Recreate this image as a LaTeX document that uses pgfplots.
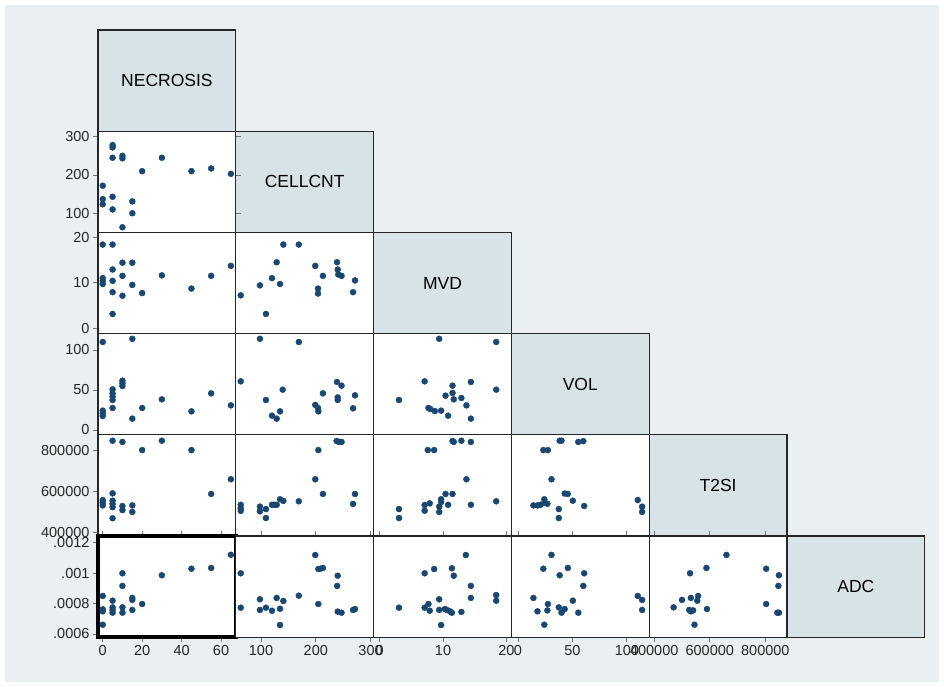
\documentclass[border=0pt]{standalone}
\usepackage{fontspec}
\setmainfont{Liberation Sans}
\usepackage{pgfplots}
\pgfplotsset{compat=1.18}

\definecolor{stnavy}{RGB}{26,71,111}
\definecolor{stbg}{RGB}{234,240,242}
\definecolor{stbox}{RGB}{216,227,231}

\pgfplotsset{
  panel/.style={
    scale only axis, width=137.8pt, height=101.2pt, anchor=south west,
    scaled ticks=false,
    axis background/.style={fill=white},
    axis line style={draw=black!85, line width=1.1pt},
    xtick=\empty, ytick=\empty,
    tick align=outside, major tick length=5pt,
    tick style={draw=black!55, line width=0.8pt},
    tick label style={font=\fontsize{14.5}{16}\selectfont, text=black!85},
  },
  dots/.style={only marks, mark=*, mark size=3pt, draw=stnavy, fill=stnavy},
  necx/.style={xmin=-2.4, xmax=67.5},
  cellx/.style={xmin=54, xmax=305.5},
  mvdx/.style={xmin=-0.96, xmax=20.8},
  volx/.style={xmin=-6, xmax=120.5},
  t2x/.style={xmin=382000, xmax=878000},
  celly/.style={ymin=50, ymax=314.4},
  mvdy/.style={ymin=-1.23, ymax=21.08},
  voly/.style={ymin=-6, ymax=120.5},
  t2y/.style={ymin=382000, ymax=878000},
  adcy/.style={ymin=0.000579, ymax=0.001244},
}

\newcommand{\lab}[1]{\fontsize{17.5}{20}\selectfont #1}

\begin{document}
\begin{tikzpicture}
% graph region
\fill[white] (0pt,0pt) rectangle (944pt,687pt);
\fill[stbg] (5pt,5pt) rectangle (939pt,682pt);

% variable names on the diagonal
\draw[fill=stbox, draw=black!85, line width=1.1pt] (98pt,555.8pt) rectangle (235.8pt,657pt) node[midway]{\lab{NECROSIS}};
\draw[fill=stbox, draw=black!85, line width=1.1pt] (235.8pt,454.6pt) rectangle (373.6pt,555.8pt) node[midway]{\lab{CELLCNT}};
\draw[fill=stbox, draw=black!85, line width=1.1pt] (373.6pt,353.4pt) rectangle (511.4pt,454.6pt) node[midway]{\lab{MVD}};
\draw[fill=stbox, draw=black!85, line width=1.1pt] (511.4pt,252.2pt) rectangle (649.2pt,353.4pt) node[midway]{\lab{VOL}};
\draw[fill=stbox, draw=black!85, line width=1.1pt] (649.2pt,151pt) rectangle (787pt,252.2pt) node[midway]{\lab{T2SI}};
\draw[fill=stbox, draw=black!85, line width=1.1pt] (787pt,49.8pt) rectangle (924.8pt,151pt) node[midway]{\lab{ADC}};

% ---- row: CELLCNT
\begin{axis}[panel, at={(98pt,454.6pt)}, necx, celly, ytick={100,200,300}, yticklabels={100,200,300}]
\addplot[dots] coordinates {(0,172)(0,137)(0,123.5)(5,278)(5,272)(5,245)(5,143)(5,110)(10,250)(10,243.6)(10,63.4)(15,131)(15,100)(20,210)(30,245)(45,210)(55,217)(65,203)};
\end{axis}

% ---- row: MVD
\begin{axis}[panel, at={(98pt,353.4pt)}, necx, mvdy, ytick={0,10,20}, yticklabels={0,10,20}]
\addplot[dots] coordinates {(0,18.4)(5,18.4)(0,11.0)(0,10.4)(0,9.7)(5,12.9)(5,10.4)(5,7.9)(5,3.1)(10,14.4)(10,11.5)(10,7.1)(15,14.4)(15,9.5)(20,7.7)(30,11.6)(45,8.7)(55,11.5)(65,13.7)};
\end{axis}
\begin{axis}[panel, at={(235.8pt,353.4pt)}, cellx, mvdy]
\addplot[dots] coordinates {(63,7.2)(98,9.4)(109,3.1)(120,11.0)(128.6,14.5)(134.7,9.7)(140.8,18.4)(169,18.4)(199,13.7)(204,8.7)(204,7.6)(213,11.5)(238.7,14.5)(240,12.9)(241,11.8)(247,11.5)(271.5,10.5)(268,7.9)};
\end{axis}

% ---- row: VOL
\begin{axis}[panel, at={(98pt,252.2pt)}, necx, voly, ytick={0,50,100}, yticklabels={0,50,100}]
\addplot[dots] coordinates {(0,110)(0,24.2)(0,20.8)(0,17.5)(5,50.8)(5,45.8)(5,41.7)(5,37.5)(5,27.5)(10,61.7)(10,58.3)(10,55)(15,114)(15,14.2)(20,27.5)(30,38.3)(45,23.3)(55,45.8)(65,30.8)};
\end{axis}
\begin{axis}[panel, at={(235.8pt,252.2pt)}, cellx, voly]
\addplot[dots] coordinates {(98,114)(169,110)(63,60.8)(109,37.5)(139.6,50.4)(120,17.9)(128.6,14.2)(134.7,23.3)(199,31.3)(204,27.5)(204.6,23.3)(213,45.8)(238.7,60)(247,55.4)(240,40.8)(240,37.5)(271.5,43.3)(268,27.1)};
\end{axis}
\begin{axis}[panel, at={(373.6pt,252.2pt)}, mvdx, voly]
\addplot[dots] coordinates {(9.4,114)(18.4,110)(3.05,37.5)(7.1,60.8)(7.7,27.5)(8.0,26.2)(8.7,23.7)(9.7,24.2)(10.8,17.9)(10.4,42.9)(11.5,55.4)(11.5,46.25)(11.7,38.3)(12.9,40)(13.7,30.8)(14.4,60)(14.4,14.2)(18.4,50.4)};
\end{axis}

% ---- row: T2SI
\begin{axis}[panel, at={(98pt,151pt)}, necx, t2y, ytick={400000,600000,800000}, yticklabels={400000,600000,800000}]
\addplot[dots] coordinates {(0,558000)(0,545000)(0,532000)(5,849000)(5,591000)(5,555000)(5,539000)(5,523000)(5,469000)(10,843000)(10,529000)(10,509000)(15,532000)(15,500000)(20,803000)(30,849000)(45,803000)(55,588000)(65,660000)};
\end{axis}
\begin{axis}[panel, at={(235.8pt,151pt)}, cellx, t2y]
\addplot[dots] coordinates {(238,847500)(242.3,843000)(247,843000)(204.6,803000)(199,660000)(213,588000)(271.5,588000)(268,539000)(169,552000)(134.7,562000)(140.8,554000)(120,535000)(128.6,535000)(124,535000)(98,526000)(98,503000)(109,514000)(109,470000)(63,535000)(63,518000)(63,505000)};
\end{axis}
\begin{axis}[panel, at={(373.6pt,151pt)}, mvdx, t2y]
\addplot[dots] coordinates {(11.5,847500)(11.7,843000)(12.9,849000)(14.4,843000)(7.6,803000)(8.6,803000)(13.7,660000)(10.4,588000)(11.5,588000)(18.4,552000)(14.4,535000)(10.8,535000)(9.7,562000)(9.7,549000)(9.4,526000)(9.4,500000)(7.9,542000)(7.1,534000)(7.1,506000)(3.05,514000)(3.05,470000)};
\end{axis}
\begin{axis}[panel, at={(511.4pt,151pt)}, volx, t2y]
\addplot[dots] coordinates {(30.8,660000)(45.8,588000)(23.3,803000)(38.3,849000)(27.5,803000)(14.2,532000)(114,500000)(114,526000)(60.8,529000)(55.4,843000)(60,847000)(42.9,590000)(27,540000)(50.4,555000)(37.5,470000)(37.5,514000)(40,849000)(110,558000)(24.2,545000)(24.2,562000)(17.9,532000)(20.8,535000)};
\end{axis}

% ---- row: ADC
\begin{axis}[panel, at={(98pt,49.8pt)}, necx, adcy, axis line style={draw=black, line width=4.5pt},
  xtick={0,20,40,60}, xticklabels={0,20,40,60},
  ytick={0.0006,0.0008,0.001,0.0012}, yticklabels={.0006,.0008,.001,.0012}]
\addplot[dots] coordinates {(0,0.000850)(0,0.000762)(0,0.000749)(0,0.000661)(5,0.000819)(5,0.000775)(5,0.000758)(5,0.000740)(10,0.000999)(10,0.000916)(10,0.000775)(10,0.000740)(15,0.000837)(15,0.000824)(15,0.000758)(20,0.000797)(30,0.000986)(45,0.001029)(55,0.001034)(65,0.001121)};
\end{axis}
\begin{axis}[panel, at={(235.8pt,49.8pt)}, cellx, adcy, xtick={100,200,300}, xticklabels={100,200,300}]
\addplot[dots] coordinates {(199,0.001119)(204.6,0.001027)(208.5,0.001029)(213,0.001034)(240,0.000983)(239,0.000916)(63,0.000999)(63,0.000773)(169,0.000852)(128.6,0.000837)(140.8,0.000817)(98,0.000828)(98,0.000758)(109,0.000773)(120,0.000753)(134.7,0.000766)(134.7,0.000659)(204.6,0.000797)(240,0.000747)(247,0.000740)(268,0.000758)(271.5,0.000764)};
\end{axis}
\begin{axis}[panel, at={(373.6pt,49.8pt)}, mvdx, adcy, xtick={0,10,20}, xticklabels={0,10,20}]
\addplot[dots] coordinates {(13.6,0.001119)(7.1,0.000999)(8.6,0.001027)(11.4,0.001032)(11.7,0.000983)(14.4,0.000916)(14.4,0.000837)(18.4,0.000856)(18.4,0.000819)(9.4,0.000828)(3.05,0.000773)(7.1,0.000773)(7.7,0.000797)(7.9,0.000753)(9.4,0.000758)(10.3,0.000764)(10.6,0.000758)(11.1,0.000749)(11.4,0.000740)(12.9,0.000745)(9.7,0.000659)};
\end{axis}
\begin{axis}[panel, at={(511.4pt,49.8pt)}, volx, adcy, xtick={0,50,100}, xticklabels={0,50,100}]
\addplot[dots] coordinates {(30.8,0.001120)(45.8,0.001034)(23.3,0.001029)(38.3,0.000986)(27.5,0.000797)(14.2,0.000837)(114,0.000824)(114,0.000758)(60.8,0.000999)(55.4,0.000740)(60,0.000916)(42.9,0.000764)(27,0.000755)(50.4,0.000819)(37.5,0.000775)(40,0.000740)(110,0.000850)(24.2,0.000661)(17.9,0.000749)};
\end{axis}
\begin{axis}[panel, at={(649.2pt,49.8pt)}, t2x, adcy, xtick={400000,600000,800000}, xticklabels={400000,600000,800000}]
\addplot[dots] coordinates {(660000,0.001120)(588000,0.001034)(803000,0.001029)(849000,0.000986)(803000,0.000797)(532000,0.000837)(500000,0.000824)(526000,0.000758)(529000,0.000999)(843000,0.000740)(847000,0.000916)(590000,0.000764)(540000,0.000755)(555000,0.000819)(470000,0.000775)(849000,0.000740)(558000,0.000850)(545000,0.000661)(532000,0.000749)};
\end{axis}
\end{tikzpicture}
\end{document}
